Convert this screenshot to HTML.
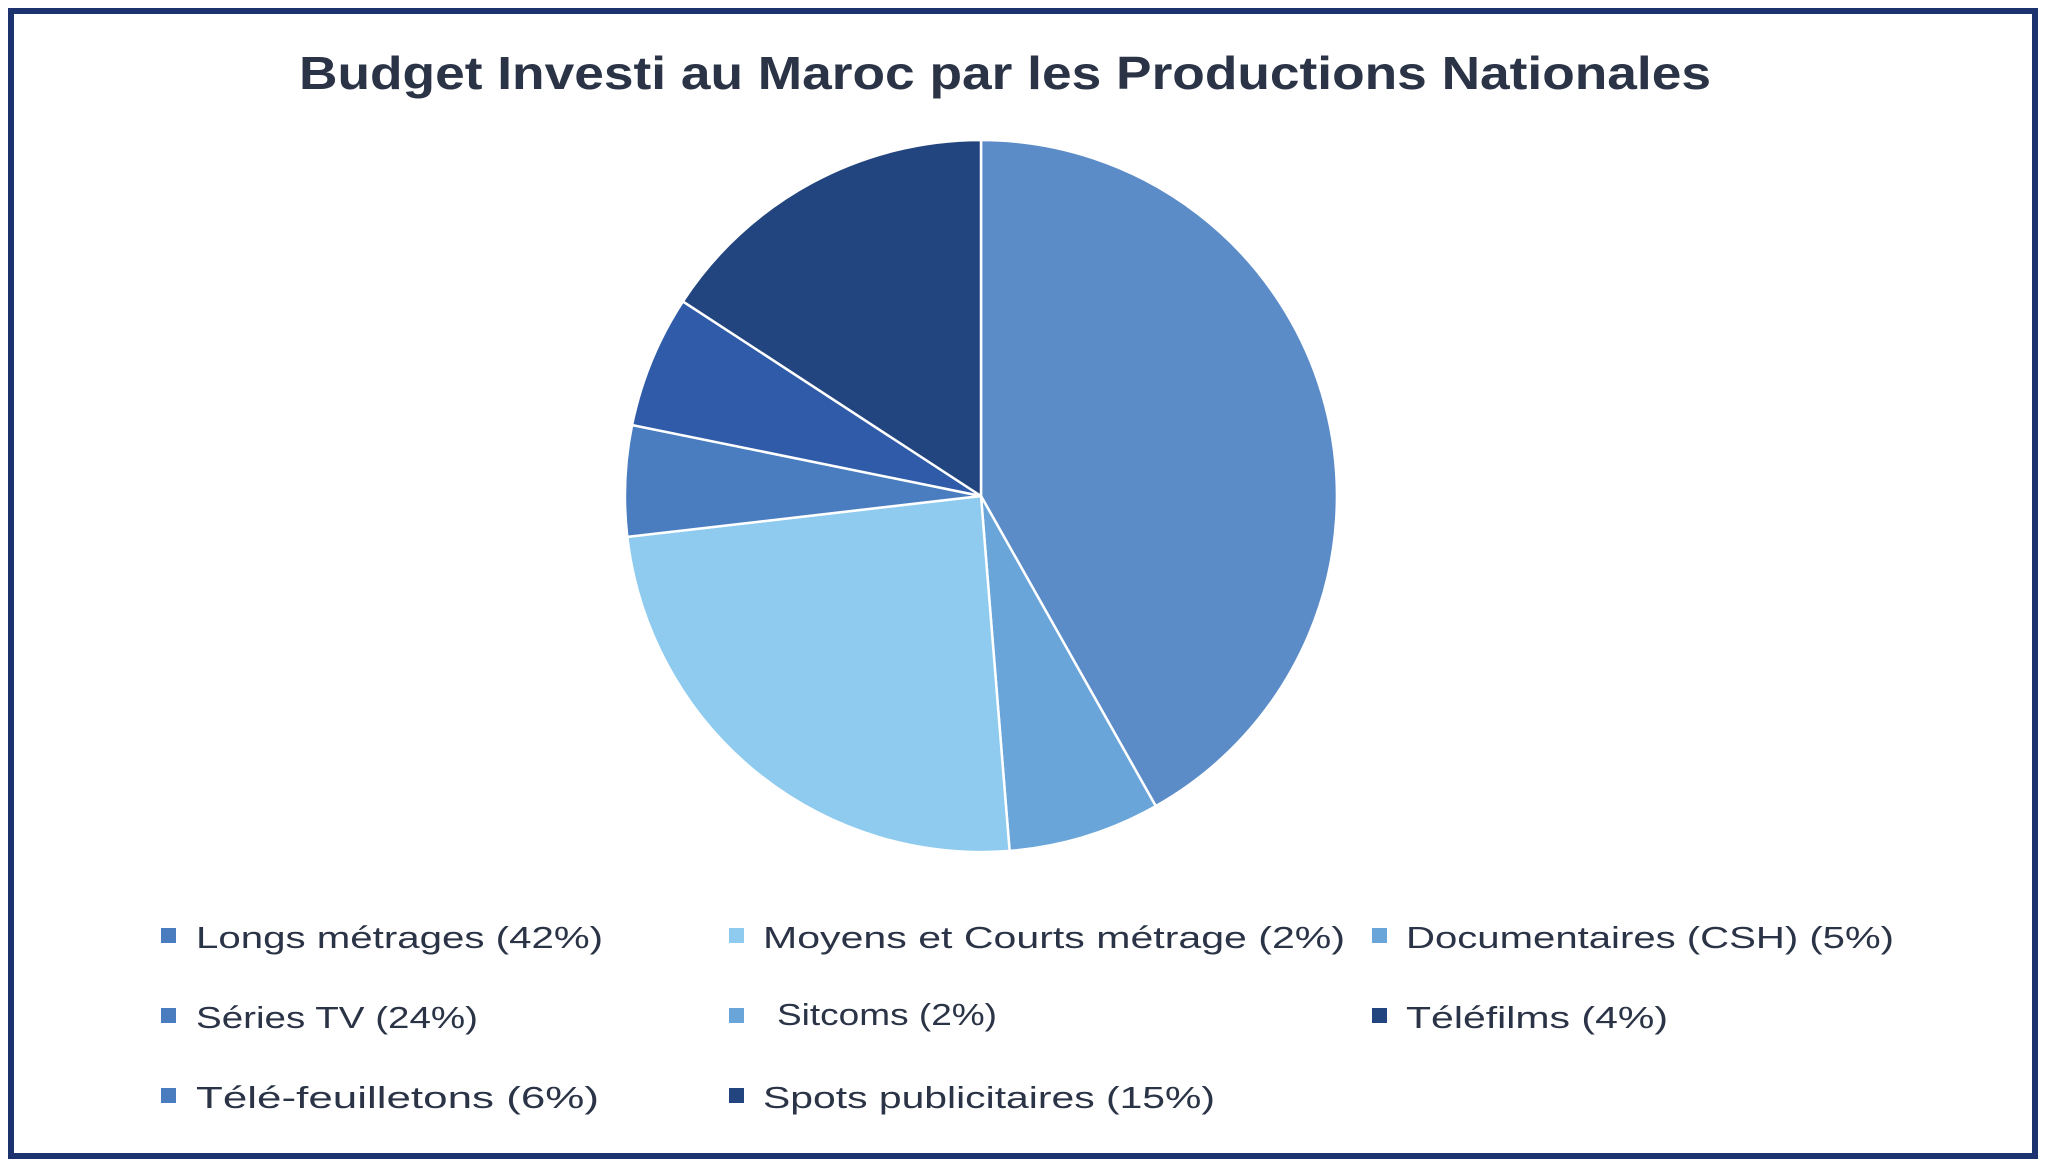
<!DOCTYPE html>
<html><head><meta charset="utf-8"><style>html,body{margin:0;padding:0;background:#fff}</style></head>
<body>
<svg width="2046" height="1168" viewBox="0 0 2046 1168" xmlns="http://www.w3.org/2000/svg" font-family="Liberation Sans, sans-serif">
<rect x="0" y="0" width="2046" height="1168" fill="#fff"/>
<rect x="11" y="11" width="2024" height="1145" fill="none" stroke="#1d3370" stroke-width="6"/>
<text x="1005" y="89" text-anchor="middle" font-size="46" font-weight="bold" fill="#2b3447" textLength="1412" lengthAdjust="spacingAndGlyphs">Budget Investi au Maroc par les Productions Nationales</text>
<g stroke="#fff" stroke-width="2.5" stroke-linejoin="round">
<path id="s1" fill="#5b8cc8" d="M981,496 L981,140 A356,356 0 0 1 1155.8,806.1 Z"/>
<path fill="#6aa5d9" d="M981,496 L1155.8,806.1 A356,356 0 0 1 1009.6,850.9 Z"/>
<path fill="#8ecbef" d="M981,496 L1009.6,850.9 A356,356 0 0 1 627.3,536.9 Z"/>
<path fill="#4a7dc0" d="M981,496 L627.3,536.9 A356,356 0 0 1 632.1,425.0 Z"/>
<path fill="#2f5ba8" d="M981,496 L632.1,425.0 A356,356 0 0 1 682.9,301.4 Z"/>
<path fill="#23457f" d="M981,496 L682.9,301.4 A356,356 0 0 1 981,140 Z"/>
</g>
<g font-size="31" fill="#2b3447">
<rect x="161" y="928" width="15" height="15" fill="#4a7dc0"/>
<text x="196" y="948" textLength="407" lengthAdjust="spacingAndGlyphs">Longs métrages (42%)</text>
<rect x="729" y="928" width="15" height="15" fill="#8ecbef"/>
<text x="763" y="948" textLength="582" lengthAdjust="spacingAndGlyphs">Moyens et Courts métrage (2%)</text>
<rect x="1372" y="928" width="15" height="15" fill="#6aa5d9"/>
<text x="1406" y="948" textLength="488" lengthAdjust="spacingAndGlyphs">Documentaires (CSH) (5%)</text>
<rect x="161" y="1008" width="15" height="15" fill="#4a7dc0"/>
<text x="196" y="1028" textLength="282" lengthAdjust="spacingAndGlyphs">Séries TV (24%)</text>
<rect x="729" y="1008" width="15" height="15" fill="#6aa5d9"/>
<text x="777" y="1025" textLength="220" lengthAdjust="spacingAndGlyphs">Sitcoms (2%)</text>
<rect x="1372" y="1008" width="15" height="15" fill="#23457f"/>
<text x="1406" y="1028" textLength="262" lengthAdjust="spacingAndGlyphs">Téléfilms (4%)</text>
<rect x="161" y="1088" width="15" height="15" fill="#4a7dc0"/>
<text x="196" y="1108" textLength="403" lengthAdjust="spacingAndGlyphs">Télé-feuilletons  (6%)</text>
<rect x="729" y="1088" width="15" height="15" fill="#23457f"/>
<text x="763" y="1108" textLength="452" lengthAdjust="spacingAndGlyphs">Spots publicitaires (15%)</text>
</g>
</svg>
</body></html>
